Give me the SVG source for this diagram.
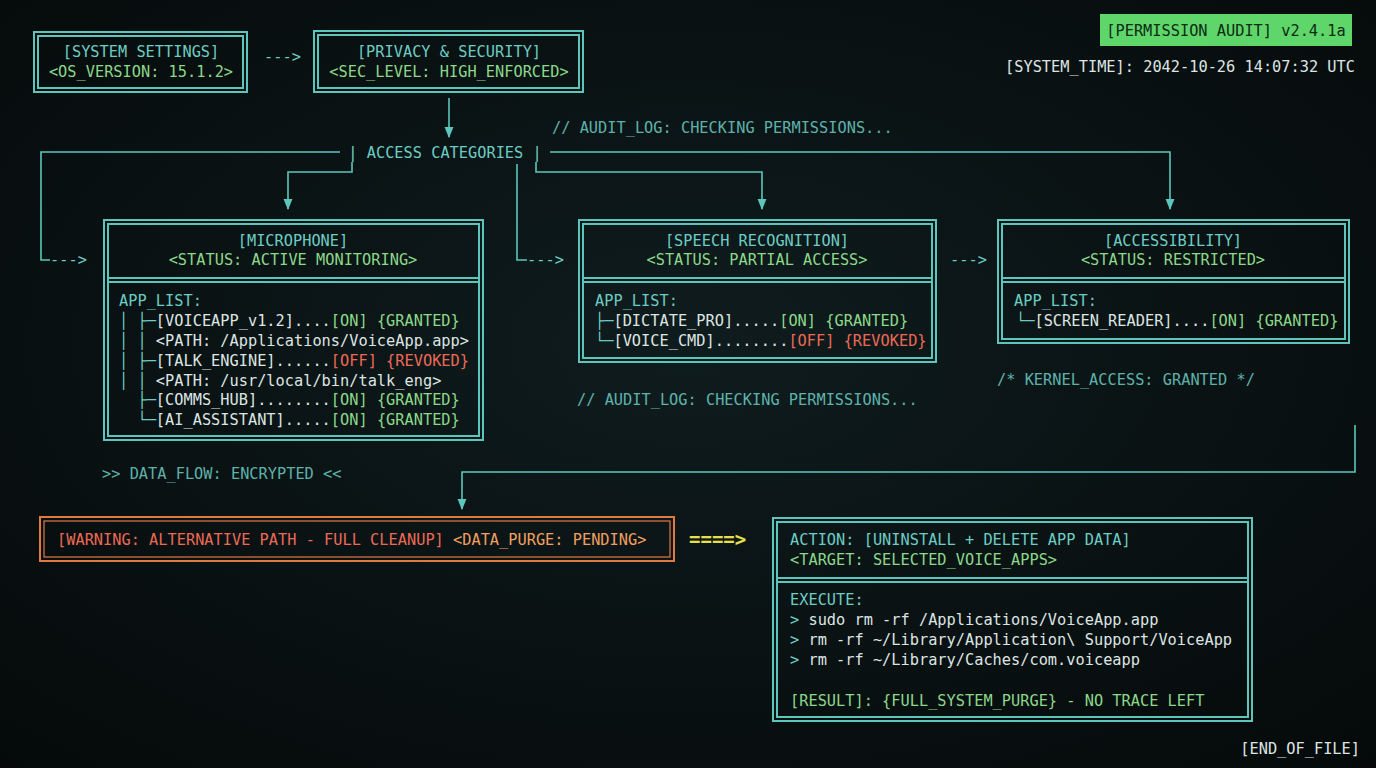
<svg xmlns="http://www.w3.org/2000/svg" width="1376" height="768" viewBox="0 0 1376 768" xml:space="preserve">
<defs>
<radialGradient id="bg" cx="50%" cy="45%" r="75%"><stop offset="0" stop-color="#0f1c1e"/><stop offset="1" stop-color="#050909"/></radialGradient>
<marker id="ah" viewBox="0 0 10 10" refX="9" refY="5" markerWidth="7" markerHeight="9" orient="auto"><path d="M0,1 L10,5 L0,9 Z" fill="#5cc6bd"/></marker>
<style>
text{font-family:"DejaVu Sans Mono","Liberation Mono",monospace;font-size:15.3px;fill:#d9e2e0;white-space:pre}
.c{fill:#6ccdc4}.g{fill:#8bd88a}.r{fill:#ec6a55}.w{fill:#dde5e3}.y{fill:#e8e04a}.o{fill:#f0a060}
.m{text-anchor:middle}
.b{fill:none;stroke:#5cc6bd;stroke-width:2}
.ln{fill:none;stroke:#5cc6bd;stroke-width:1.6}
</style>
</defs>
<rect width="1376" height="768" fill="url(#bg)"/>

<g id="audit-badge"><rect x="1100" y="14" width="252" height="32" fill="#5fd66a"/><text x="1226" y="36" class="m" style="fill:#0d2a14">[PERMISSION AUDIT] v2.4.1a</text></g>
<text x="1355" y="72" text-anchor="end" class="w">[SYSTEM_TIME]: 2042-10-26 14:07:32 UTC</text>

<g id="system-settings"><rect x="34" y="32" width="213" height="60" class="b"/><rect x="38" y="36" width="205" height="52" class="b" stroke-width="1.3"/>
<text x="141" y="57" class="m c">[SYSTEM SETTINGS]</text><text x="141" y="77" class="m g">&lt;OS_VERSION: 15.1.2&gt;</text></g>

<g id="privacy"><rect x="314" y="31" width="269" height="61" class="b"/><rect x="318" y="35" width="261" height="53" class="b" stroke-width="1.3"/>
<text x="449" y="57" class="m c">[PRIVACY &amp; SECURITY]</text><text x="449" y="77" class="m g">&lt;SEC_LEVEL: HIGH_ENFORCED&gt;</text></g>

<g id="access-categories"><text x="445" y="158" class="m c">| ACCESS CATEGORIES |</text></g>

<g id="connectors">
<text x="264" y="62" class="c">---&gt;</text>
<line x1="449" y1="98" x2="449" y2="137" class="ln" marker-end="url(#ah)"/>
<polyline points="340,152 41,152 41,260 50,260" class="ln"/><text x="50" y="265" class="c">---&gt;</text>
<polyline points="352,162 352,172 288,172 288,209" class="ln" marker-end="url(#ah)"/>
<polyline points="517,164 517,260 527,260" class="ln"/><text x="527" y="265" class="c">---&gt;</text>
<polyline points="536,162 536,172 762,172 762,209" class="ln" marker-end="url(#ah)"/>
<polyline points="550,152 1170,152 1170,209" class="ln" marker-end="url(#ah)"/>
<text x="950" y="265" class="c">---&gt;</text>
<polyline points="1355,425 1355,472 462,472 462,509" class="ln" marker-end="url(#ah)"/>
<text x="689" y="546" class="y" style="font-weight:bold;font-size:19px">====&gt;</text>
</g>

<text x="552" y="133" class="c" opacity="0.85">// AUDIT_LOG: CHECKING PERMISSIONS...</text>
<text x="577" y="405" class="c" opacity="0.85">// AUDIT_LOG: CHECKING PERMISSIONS...</text>
<text x="997" y="385" class="c" opacity="0.85">/* KERNEL_ACCESS: GRANTED */</text>
<text x="102" y="479" class="c" opacity="0.85">&gt;&gt; DATA_FLOW: ENCRYPTED &lt;&lt;</text>

<g id="microphone"><rect x="104" y="220" width="379" height="220" class="b"/><rect x="108" y="224" width="371" height="212" class="b" stroke-width="1.3"/><line x1="108" y1="278" x2="479" y2="278" class="b"/><line x1="108" y1="282" x2="479" y2="282" class="b" stroke-width="1.3"/>
<text x="293" y="246" class="m c">[MICROPHONE]</text><text x="293" y="265" class="m g">&lt;STATUS: ACTIVE MONITORING&gt;</text>
<text x="119" y="306" class="c">APP_LIST:</text>
<text x="119" y="326"><tspan class="c">│ ├─</tspan><tspan class="w">[VOICEAPP_v1.2]....</tspan><tspan class="g">[ON] {GRANTED}</tspan></text>
<text x="119" y="346"><tspan class="c">│ │ </tspan><tspan class="w">&lt;PATH: /Applications/VoiceApp.app&gt;</tspan></text>
<text x="119" y="366"><tspan class="c">│ ├─</tspan><tspan class="w">[TALK_ENGINE]......</tspan><tspan class="r">[OFF] {REVOKED}</tspan></text>
<text x="119" y="386"><tspan class="c">│ │ </tspan><tspan class="w">&lt;PATH: /usr/local/bin/talk_eng&gt;</tspan></text>
<text x="119" y="405"><tspan class="c">  ├─</tspan><tspan class="w">[COMMS_HUB]........</tspan><tspan class="g">[ON] {GRANTED}</tspan></text>
<text x="119" y="425"><tspan class="c">  └─</tspan><tspan class="w">[AI_ASSISTANT].....</tspan><tspan class="g">[ON] {GRANTED}</tspan></text></g>

<g id="speech"><rect x="579" y="220" width="357" height="142" class="b"/><rect x="583" y="224" width="349" height="134" class="b" stroke-width="1.3"/><line x1="583" y1="278" x2="932" y2="278" class="b"/><line x1="583" y1="282" x2="932" y2="282" class="b" stroke-width="1.3"/>
<text x="757" y="246" class="m c">[SPEECH RECOGNITION]</text><text x="757" y="265" class="m g">&lt;STATUS: PARTIAL ACCESS&gt;</text>
<text x="595" y="306" class="c">APP_LIST:</text>
<text x="595" y="326"><tspan class="c">├─</tspan><tspan class="w">[DICTATE_PRO].....</tspan><tspan class="g">[ON] {GRANTED}</tspan></text>
<text x="595" y="346"><tspan class="c">└─</tspan><tspan class="w">[VOICE_CMD]........</tspan><tspan class="r">[OFF] {REVOKED}</tspan></text></g>

<g id="accessibility"><rect x="998" y="220" width="351" height="123" class="b"/><rect x="1002" y="224" width="343" height="115" class="b" stroke-width="1.3"/><line x1="1002" y1="278" x2="1345" y2="278" class="b"/><line x1="1002" y1="282" x2="1345" y2="282" class="b" stroke-width="1.3"/>
<text x="1173" y="246" class="m c">[ACCESSIBILITY]</text><text x="1173" y="265" class="m g">&lt;STATUS: RESTRICTED&gt;</text>
<text x="1014" y="306" class="c">APP_LIST:</text>
<text x="1016" y="326"><tspan class="c">└─</tspan><tspan class="w">[SCREEN_READER]....</tspan><tspan class="g">[ON] {GRANTED}</tspan></text></g>

<g id="warning"><rect x="40" y="517" width="634" height="44" fill="none" stroke="#e07a45" stroke-width="2"/><rect x="44" y="521" width="626" height="36" fill="none" stroke="#e07a45" stroke-width="1.2"/>
<text x="57" y="545"><tspan class="r">[WARNING: ALTERNATIVE PATH - FULL CLEANUP]</tspan><tspan class="o"> &lt;DATA_PURGE: PENDING&gt;</tspan></text></g>

<g id="action"><rect x="773" y="518" width="479" height="203" class="b"/><rect x="777" y="522" width="471" height="195" class="b" stroke-width="1.3"/><line x1="777" y1="578" x2="1248" y2="578" class="b"/><line x1="777" y1="582" x2="1248" y2="582" class="b" stroke-width="1.3"/>
<text x="790" y="545" class="c">ACTION: [UNINSTALL + DELETE APP DATA]</text>
<text x="790" y="565" class="g">&lt;TARGET: SELECTED_VOICE_APPS&gt;</text>
<text x="790" y="605" class="c">EXECUTE:</text>
<text x="790" y="625"><tspan class="c">&gt; </tspan><tspan class="w">sudo rm -rf /Applications/VoiceApp.app</tspan></text>
<text x="790" y="645"><tspan class="c">&gt; </tspan><tspan class="w">rm -rf ~/Library/Application\ Support/VoiceApp</tspan></text>
<text x="790" y="665"><tspan class="c">&gt; </tspan><tspan class="w">rm -rf ~/Library/Caches/com.voiceapp</tspan></text>
<text x="790" y="706" class="g">[RESULT]: {FULL_SYSTEM_PURGE} - NO TRACE LEFT</text></g>

<text x="1360" y="754" text-anchor="end" class="w">[END_OF_FILE]</text>
</svg>
